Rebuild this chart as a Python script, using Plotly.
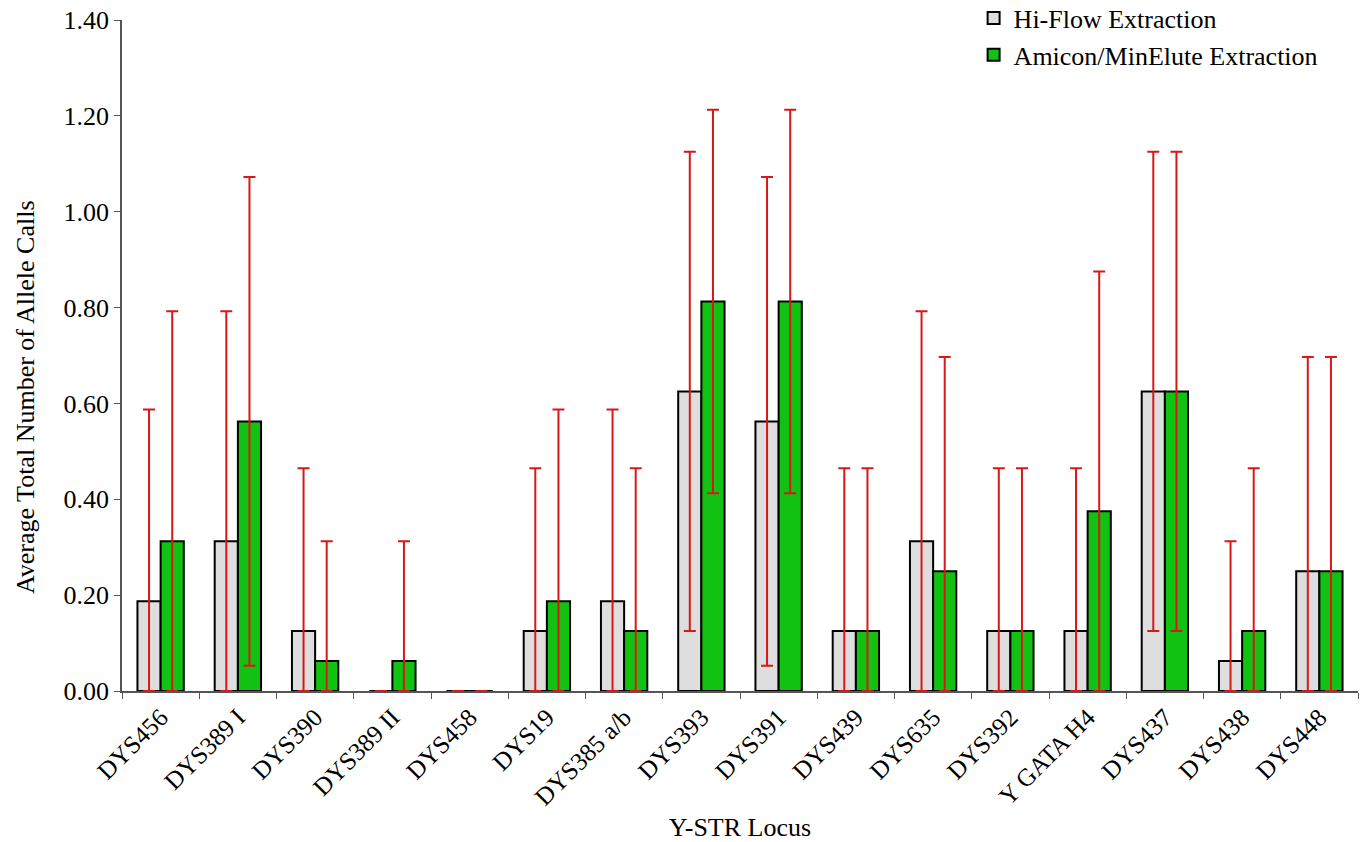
import plotly.graph_objects as go

loci = ["DYS456", "DYS389 I", "DYS390", "DYS389 II", "DYS458", "DYS19", "DYS385 a/b",
        "DYS393", "DYS391", "DYS439", "DYS635", "DYS392", "Y GATA H4", "DYS437",
        "DYS438", "DYS448"]
hiflow = [0.1875, 0.3125, 0.125, 0.0, 0.0, 0.125, 0.1875, 0.625, 0.5625, 0.125,
          0.3125, 0.125, 0.125, 0.625, 0.0625, 0.25]
hiflow_err = [0.40, 0.48, 0.34, 0.0, 0.0, 0.34, 0.40, 0.50, 0.51, 0.34,
              0.48, 0.34, 0.34, 0.50, 0.25, 0.447]
amicon = [0.3125, 0.5625, 0.0625, 0.0625, 0.0, 0.1875, 0.125, 0.8125, 0.8125, 0.125,
          0.25, 0.125, 0.375, 0.625, 0.125, 0.25]
amicon_err = [0.48, 0.51, 0.25, 0.25, 0.0, 0.40, 0.34, 0.40, 0.40, 0.34,
              0.447, 0.34, 0.50, 0.50, 0.34, 0.447]
yticks = [0.0, 0.2, 0.4, 0.6, 0.8, 1.0, 1.2, 1.4]

font = "Liberation Serif, Times New Roman, serif"

def err(vals, errs):
    return dict(type="data", symmetric=False, array=errs,
                arrayminus=[min(v, e) for v, e in zip(vals, errs)],
                color="#d81818", thickness=2, width=6)

fig = go.Figure()
fig.add_bar(name="Hi-Flow Extraction", x=loci, y=hiflow,
            marker=dict(color="#dedede", line=dict(color="black", width=2)),
            error_y=err(hiflow, hiflow_err))
fig.add_bar(name="Amicon/MinElute Extraction", x=loci, y=amicon,
            marker=dict(color="#12c212", line=dict(color="black", width=2)),
            error_y=err(amicon, amicon_err))

fig.update_layout(
    width=1363, height=842,
    paper_bgcolor="white", plot_bgcolor="white",
    margin=dict(l=122, r=5, t=20, b=151, autoexpand=False),
    barmode="group", bargap=0.4, bargroupgap=0,
    font=dict(family=font, color="black", size=25),
    legend=dict(x=0.689, y=1.038, xanchor="left", yanchor="top",
                font=dict(size=26, family=font), bgcolor="rgba(0,0,0,0)",
                itemwidth=30, tracegroupgap=0),
    showlegend=True,
    annotations=[dict(text="Average Total Number of Allele Calls", textangle=-90,
                      xref="paper", yref="paper", x=-0.0785, y=0.438,
                      xanchor="center", yanchor="middle", showarrow=False,
                      font=dict(size=26, family=font, color="black"))],
)
fig.update_xaxes(
    showline=True, linecolor="#555", linewidth=1.5,
    ticks="outside", tickson="boundaries", ticklen=6, tickcolor="#555",
    tickangle=-45, tickfont=dict(size=25, family=font),
    title=dict(text="Y-STR Locus", font=dict(size=26, family=font), standoff=8),
)
fig.update_yaxes(
    range=[0, 1.4], tickvals=yticks, ticktext=[f"{v:.2f}" for v in yticks],
    showline=True, linecolor="#555", linewidth=1.5, showgrid=False, zeroline=False,
    ticks="outside", ticklen=6, tickcolor="#555", ticklabeloverflow="allow",
    tickfont=dict(size=26, family=font),
)

fig.write_html("out.html", config={"displayModeBar": False},
               post_script="document.body.style.margin='0';")
